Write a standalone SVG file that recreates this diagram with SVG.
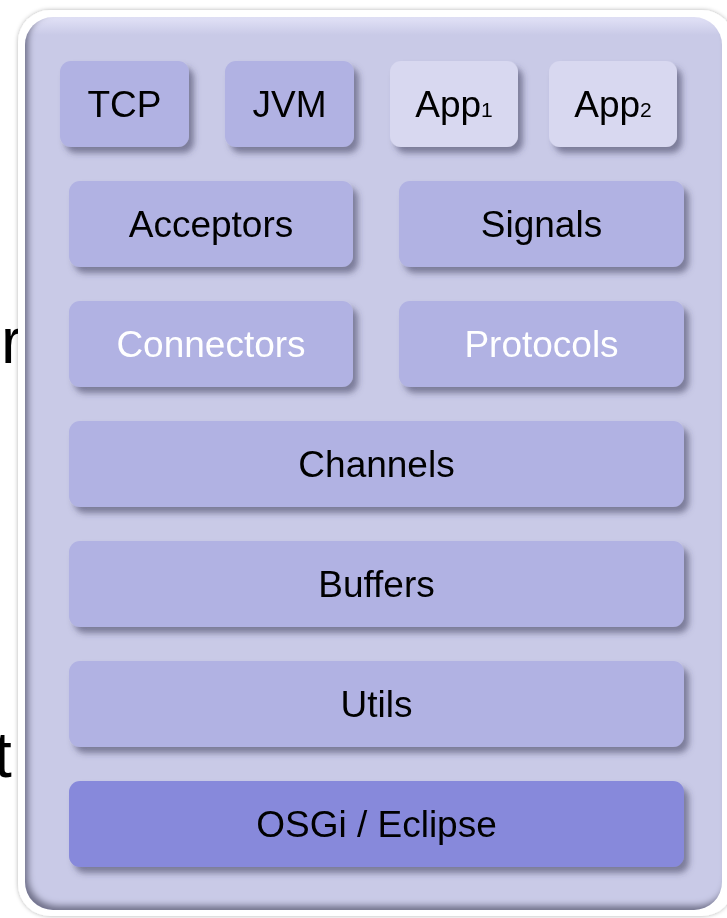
<svg xmlns="http://www.w3.org/2000/svg" width="727" height="918" viewBox="0 0 727 918">
<defs>
<style>
.lbl{font-family:"Liberation Sans",Arial,sans-serif;font-size:37px;fill:#000;text-anchor:middle}
.wht{fill:#fff}
.sub{font-size:21px}
.node{fill:#b1b2e3}
.app{fill:#d8d8f0}
.base{fill:#8789db}
.big{font-family:"Liberation Sans",Arial,sans-serif;font-size:64px;fill:#000}
</style>
<filter id="sh" x="-10%" y="-20%" width="130%" height="160%">
<feDropShadow dx="5" dy="6" stdDeviation="3" flood-color="#3a3a5a" flood-opacity="0.55"/>
</filter>
<filter id="osh" x="-5%" y="-5%" width="110%" height="110%">
<feDropShadow dx="0" dy="0" stdDeviation="2" flood-color="#000" flood-opacity="0.3"/>
</filter>
<filter id="ish" x="-5%" y="-5%" width="110%" height="110%">
<feFlood flood-color="#4a4a66" flood-opacity="0.8" result="f"/>
<feComposite in="f" in2="SourceAlpha" operator="out" result="o"/>
<feOffset in="o" dx="4" dy="-5" result="oo"/>
<feGaussianBlur in="oo" stdDeviation="3" result="b"/>
<feComposite in="b" in2="SourceAlpha" operator="in" result="s"/>
<feMerge><feMergeNode in="SourceGraphic"/><feMergeNode in="s"/></feMerge>
</filter>
<linearGradient id="topg" x1="0" y1="0" x2="0" y2="1">
<stop offset="0" stop-color="#e2e2f7"/>
<stop offset="0.02" stop-color="#c9cae7"/>
<stop offset="1" stop-color="#c9cae7"/>
</linearGradient>
</defs>
<text class="big" x="1" y="363">r</text>
<text class="big" x="-6" y="777">t</text>
<g id="panel">
<rect x="18" y="10" width="716" height="906" rx="32" fill="#fff" filter="url(#osh)"/>
<rect x="25" y="17" width="697" height="893" rx="28" fill="url(#topg)" filter="url(#ish)"/>
</g>
<g id="tcp" filter="url(#sh)"><rect class="node" x="60" y="61" width="129" height="86" rx="11"/><text class="lbl" x="124.5" y="117">TCP</text></g>
<g id="jvm" filter="url(#sh)"><rect class="node" x="225" y="61" width="129" height="86" rx="11"/><text class="lbl" x="289.5" y="117">JVM</text></g>
<g id="app1" filter="url(#sh)"><rect class="app" x="390" y="61" width="128" height="86" rx="11"/><text class="lbl" x="454" y="117">App<tspan class="sub">1</tspan></text></g>
<g id="app2" filter="url(#sh)"><rect class="app" x="549" y="61" width="128" height="86" rx="11"/><text class="lbl" x="613" y="117">App<tspan class="sub">2</tspan></text></g>
<g id="acceptors" filter="url(#sh)"><rect class="node" x="69" y="181" width="284" height="86" rx="11"/><text class="lbl" x="211" y="237">Acceptors</text></g>
<g id="signals" filter="url(#sh)"><rect class="node" x="399" y="181" width="285" height="86" rx="11"/><text class="lbl" x="541.5" y="237">Signals</text></g>
<g id="connectors" filter="url(#sh)"><rect class="node" x="69" y="301" width="284" height="86" rx="11"/><text class="lbl wht" x="211" y="357">Connectors</text></g>
<g id="protocols" filter="url(#sh)"><rect class="node" x="399" y="301" width="285" height="86" rx="11"/><text class="lbl wht" x="541.5" y="357">Protocols</text></g>
<g id="channels" filter="url(#sh)"><rect class="node" x="69" y="421" width="615" height="86" rx="11"/><text class="lbl" x="376.5" y="477">Channels</text></g>
<g id="buffers" filter="url(#sh)"><rect class="node" x="69" y="541" width="615" height="86" rx="11"/><text class="lbl" x="376.5" y="597">Buffers</text></g>
<g id="utils" filter="url(#sh)"><rect class="node" x="69" y="661" width="615" height="86" rx="11"/><text class="lbl" x="376.5" y="717">Utils</text></g>
<g id="osgi" filter="url(#sh)"><rect class="base" x="69" y="781" width="615" height="86" rx="11"/><text class="lbl" x="376.5" y="837">OSGi / Eclipse</text></g>
<g id="connectors-group"></g>
</svg>
